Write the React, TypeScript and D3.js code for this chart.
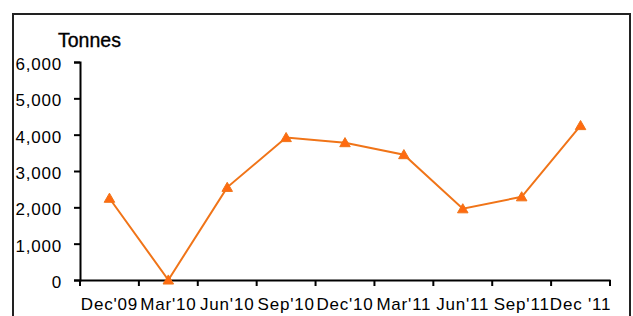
import React, { useEffect, useRef } from 'react';
import * as d3 from 'd3';

const quarters = ["Dec'09", "Mar'10", "Jun'10", "Sep'10", "Dec'10", "Mar'11", "Jun'11", "Sep'11", "Dec '11"];
const tonnes = [2250, 0, 2550, 3920, 3780, 3450, 1960, 2290, 4250];
const yTicks = [0, 1000, 2000, 3000, 4000, 5000, 6000];

const width = 633;
const height = 316;
const margin = { top: 62, right: 23, bottom: 36, left: 80 };

const App: React.FC = () => {
    const svgRef = useRef<SVGSVGElement>(null);

    useEffect(() => {
        if (!svgRef.current) return;
        const svg = d3.select(svgRef.current);
        svg.selectAll("*").remove();

        const font = "'Liberation Sans', Arial, sans-serif";

        // outer frame (bottom runs off the picture)
        svg.append("path")
            .attr("d", `M13,${height + 5} V14 H630 V${height + 5}`)
            .attr("fill", "none")
            .attr("stroke", "#222")
            .attr("stroke-width", 2);

        const xScale = d3.scaleBand<string>()
            .domain(quarters)
            .range([margin.left, width - margin.right]);

        const yScale = d3.scaleLinear()
            .domain([0, 6000])
            .range([height - margin.bottom, margin.top]);

        // y axis
        const yAxis = svg.append("g")
            .attr("transform", `translate(${margin.left},0)`)
            .call(d3.axisLeft(yScale).tickValues(yTicks).tickSize(6).tickPadding(12)
                .tickFormat(d => d3.format(",")(d as number)));
        yAxis.select(".domain").attr("stroke", "#000").attr("stroke-width", 2);
        yAxis.selectAll(".tick line").attr("stroke", "#000").attr("stroke-width", 2);
        yAxis.selectAll(".tick text")
            .attr("font-family", font)
            .attr("font-size", "17px")
            .attr("letter-spacing", "0.8px")
            .attr("fill", "#000")
            .attr("dy", "0.45em");

        // x axis
        const xAxis = svg.append("g")
            .attr("transform", `translate(0,${height - margin.bottom})`)
            .call(d3.axisBottom(xScale).tickSize(0).tickPadding(18));
        xAxis.select(".domain").attr("stroke", "#000").attr("stroke-width", 2);
        xAxis.selectAll(".tick text")
            .attr("font-family", font)
            .attr("font-size", "17px")
            .attr("letter-spacing", "0.8px")
            .attr("fill", "#000");

        // x ticks at category boundaries
        const bounds = quarters.map(q => xScale(q) as number).concat([width - margin.right]);
        xAxis.selectAll(".bound")
            .data(bounds)
            .enter()
            .append("line")
            .attr("x1", d => d)
            .attr("x2", d => d)
            .attr("y1", 0)
            .attr("y2", 6)
            .attr("stroke", "#000")
            .attr("stroke-width", 2);

        // y title
        svg.append("text")
            .attr("x", 58)
            .attr("y", 47)
            .attr("font-family", font)
            .attr("font-size", "19.5px")
            .attr("fill", "#000")
            .attr("stroke", "#000")
            .attr("stroke-width", 0.35)
            .text("Tonnes");

        const cx = (q: string) => (xScale(q) as number) + xScale.bandwidth() / 2;

        const line = d3.line<number>()
            .x((_, i) => cx(quarters[i]))
            .y(d => yScale(d));

        svg.append("path")
            .datum(tonnes)
            .attr("d", line)
            .attr("fill", "none")
            .attr("stroke", "#F07418")
            .attr("stroke-width", 2);

        const tri = d3.symbol().type(d3.symbolTriangle).size(48);
        svg.selectAll(".marker")
            .data(tonnes)
            .enter()
            .append("path")
            .attr("d", tri)
            .attr("transform", (d, i) => `translate(${cx(quarters[i])},${yScale(d) + 1})`)
            .attr("fill", "#FF6A10")
            .attr("stroke", "#F07418")
            .attr("stroke-width", 1);
    }, []);

    return <svg ref={svgRef} width={width} height={height} style={{ display: 'block', position: 'absolute', left: 0, top: 0 }} />;
};

export default App;
